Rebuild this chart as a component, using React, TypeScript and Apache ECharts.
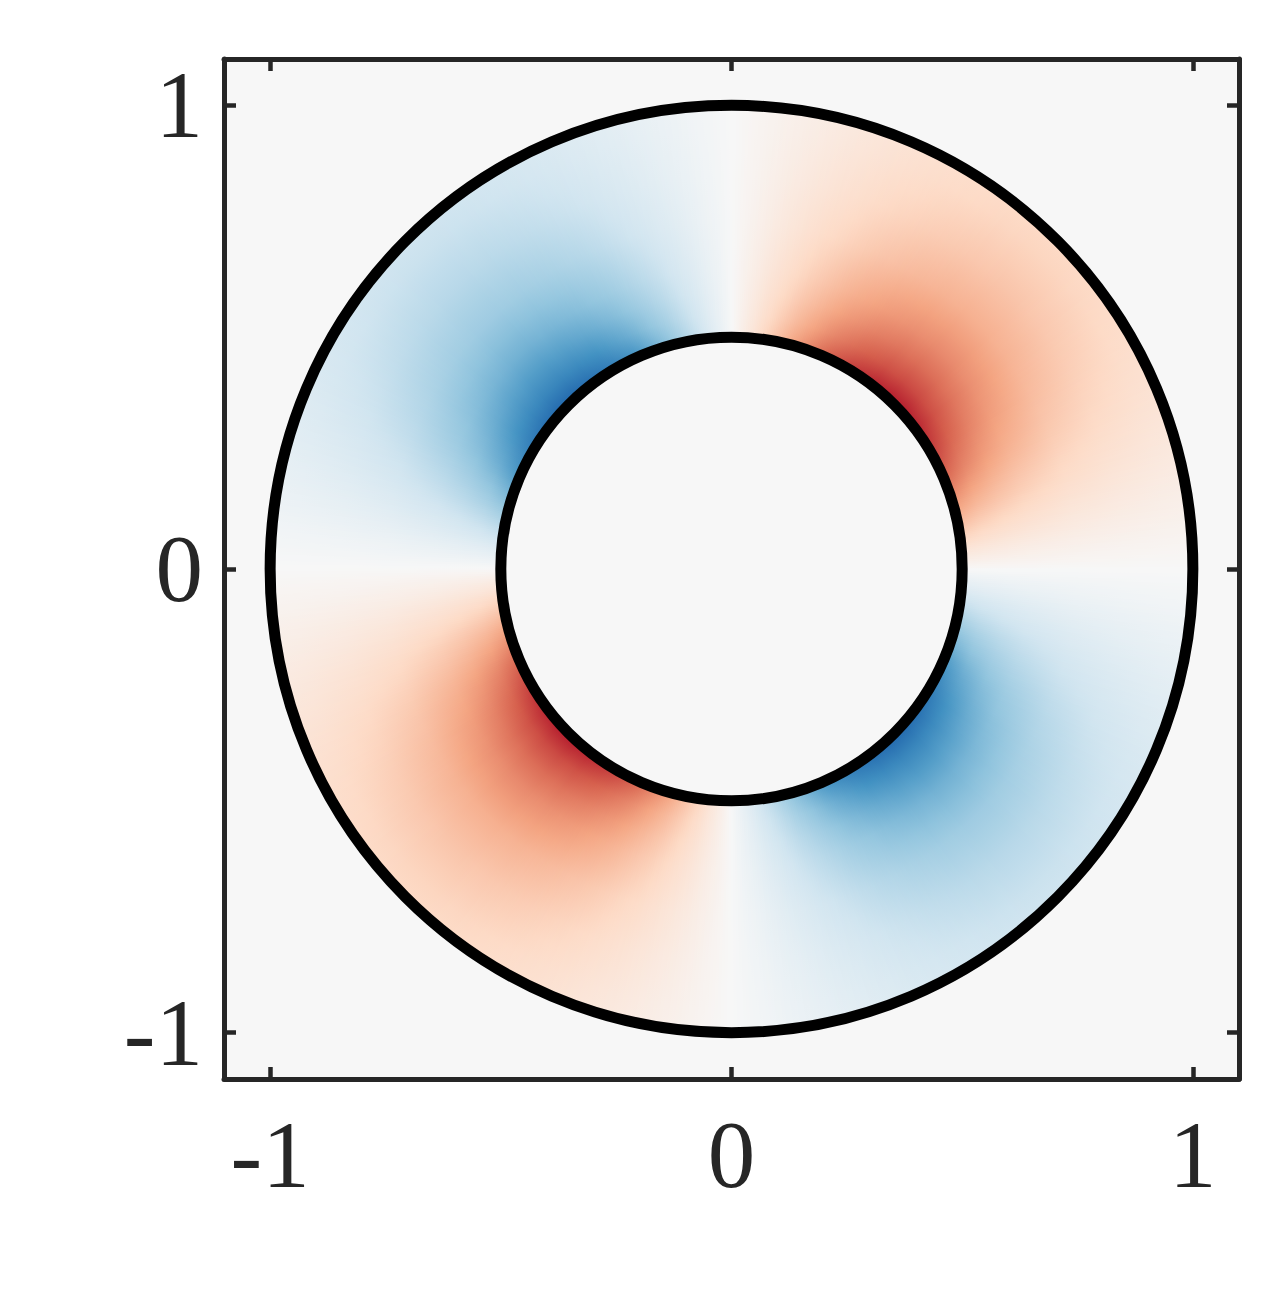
import React, { useEffect, useRef } from "react";
import * as echarts from "echarts";

// ---- data ----
const axisRange = [-1.1, 1.1];
const axisTickValues = [-1, 0, 1];
const boundaryRadii = [0.5, 1.0];
// radial profile of the field magnitude (fraction of colour range) at 45 deg
const profileRadii = [0.5, 0.55, 0.6, 0.65, 0.7, 0.75, 0.8, 0.85, 0.9, 0.95, 1.0];
const radialAmplitude = [0.8, 0.66, 0.56, 0.48, 0.42, 0.36, 0.32, 0.28, 0.25, 0.22, 0.2];
// angular shape over 0..45 deg (2.5 deg steps); pattern mirrors about 45 deg,
// and flips sign every quadrant (red: Q1/Q3, blue: Q2/Q4)
const angleStepDeg = 2.5;
const angularShapeHalfQuadrant = [
  0, 0.09, 0.17, 0.26, 0.34, 0.42, 0.5, 0.57, 0.64, 0.71, 0.77, 0.82, 0.87, 0.91,
  0.94, 0.97, 0.98, 1.0, 1.0,
];
const rdBuColors = [
  "#053061", "#2166ac", "#4393c3", "#92c5de", "#d1e5f0", "#f7f7f7",
  "#fddbc7", "#f4a582", "#d6604d", "#b2182b", "#67001f",
];

const perQuadrant = 90 / angleStepDeg;
const sectorData: number[][] = [];
for (let i = 0; i < 4 * perQuadrant; i++) {
  const q = Math.floor(i / perQuadrant);
  const k = i % perQuadrant;
  const shape = k <= perQuadrant / 2 ? angularShapeHalfQuadrant[k] : angularShapeHalfQuadrant[perQuadrant - k];
  const sign = q % 2 === 0 ? 1 : -1;
  sectorData.push([i * angleStepDeg, sign * shape]);
}
const boundaryData = boundaryRadii.map((r) => [r]);

function colorFor(v: number): string {
  const t = Math.max(0, Math.min(1, (v + 1) / 2));
  return echarts.color.lerp(t, rdBuColors) as string;
}

const FONT = "'Liberation Serif', 'Times New Roman', serif";
const AXIS_COLOR = "#262626";
// shading sub-steps between neighbouring angular samples (like shading interp)
const SHADE_STEPS = 6;

function makeAxis(kind: "x" | "y", position: string, labels: boolean) {
  return {
    type: "value",
    position,
    min: axisRange[0],
    max: axisRange[1],
    axisLine: { show: true, onZero: false, lineStyle: { color: AXIS_COLOR, width: 5 } },
    axisTick: {
      show: true,
      inside: true,
      length: 12,
      customValues: axisTickValues,
      lineStyle: { color: AXIS_COLOR, width: 4.5 },
    },
    axisLabel: labels
      ? {
          show: true,
          customValues: axisTickValues,
          formatter: (v: number) => String(v),
          fontFamily: FONT,
          fontSize: 95,
          color: AXIS_COLOR,
          margin: kind === "x" ? 28 : 21,
        }
      : { show: false },
    splitLine: { show: false },
  };
}

export default function App() {
  const ref = useRef<HTMLDivElement>(null);
  useEffect(() => {
    if (!ref.current) return;
    const chart = echarts.init(ref.current, undefined, { renderer: "svg" });
    const outerR = profileRadii[profileRadii.length - 1];
    const n = sectorData.length;
    chart.setOption({
      animation: false,
      backgroundColor: "#ffffff",
      grid: {
        left: 224,
        top: 59,
        right: 47,
        bottom: 231,
        show: true,
        backgroundColor: "#f7f7f7",
        borderWidth: 0,
      },
      xAxis: [makeAxis("x", "bottom", true), makeAxis("x", "top", false)],
      yAxis: [makeAxis("y", "left", true), makeAxis("y", "right", false)],
      series: [
        {
          type: "custom",
          name: "field",
          coordinateSystem: "cartesian2d",
          xAxisIndex: 0,
          yAxisIndex: 0,
          z: 2,
          silent: true,
          data: sectorData,
          renderItem: (params: any, api: any) => {
            const angle = api.value(0);
            const s0 = api.value(1);
            const s1 = sectorData[(params.dataIndex + 1) % n][1];
            const c = api.coord([0, 0]);
            const size = api.size([1, 1]);
            const sx = size[0];
            const sy = size[1];
            const children: any[] = [];
            const sub = angleStepDeg / SHADE_STEPS;
            for (let m = 0; m < SHADE_STEPS; m++) {
              const f = (m + 0.5) / SHADE_STEPS;
              const s = s0 * (1 - f) + s1 * f;
              const stops = profileRadii.map((r, k) => ({
                offset: r / outerR,
                color: colorFor(radialAmplitude[k] * s),
              }));
              const a1 = ((angle + m * sub - 0.15) * Math.PI) / 180;
              const a2 = ((angle + (m + 1) * sub + 0.15) * Math.PI) / 180;
              children.push({
                type: "sector",
                shape: {
                  cx: 0,
                  cy: 0,
                  r0: boundaryRadii[0] * sx,
                  r: boundaryRadii[1] * sx,
                  startAngle: -a2,
                  endAngle: -a1,
                  clockwise: true,
                },
                style: {
                  fill: new echarts.graphic.RadialGradient(0, 0, outerR * sx, stops, true),
                },
              });
            }
            return {
              type: "group",
              x: c[0],
              y: c[1],
              scaleX: 1,
              scaleY: sy / sx,
              children,
            };
          },
        },
        {
          type: "custom",
          name: "boundaries",
          coordinateSystem: "cartesian2d",
          xAxisIndex: 0,
          yAxisIndex: 0,
          z: 3,
          silent: true,
          data: boundaryData,
          renderItem: (params: any, api: any) => {
            const r = api.value(0);
            const c = api.coord([0, 0]);
            const size = api.size([1, 1]);
            return {
              type: "ellipse",
              shape: { cx: c[0], cy: c[1], rx: r * size[0], ry: r * size[1] },
              style: { fill: "none", stroke: "#000000", lineWidth: 11 },
            };
          },
        },
      ],
    });
    return () => chart.dispose();
  }, []);
  return (
    <div
      ref={ref}
      style={{ position: "fixed", left: 0, top: 0, width: 1286, height: 1310, background: "#fff" }}
    />
  );
}
